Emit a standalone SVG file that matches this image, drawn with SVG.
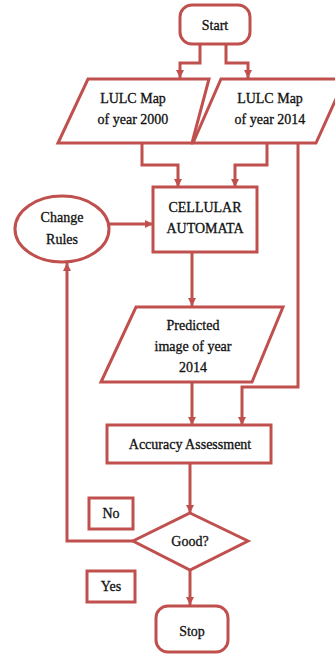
<svg xmlns="http://www.w3.org/2000/svg" width="335" height="654" viewBox="0 0 335 654">
<style>
.s{fill:#fff;stroke:#c0504d;stroke-width:3}
.c{fill:none;stroke:#c0504d;stroke-width:3}
.t{font-family:'Liberation Serif','Times New Roman','DejaVu Serif',serif;font-size:14px;fill:#111;text-anchor:middle;stroke:#111;stroke-width:0.3}
</style>
<defs>
<marker id="ah" markerUnits="userSpaceOnUse" markerWidth="10" markerHeight="10" viewBox="0 0 10 10" refX="9" refY="5" orient="auto">
<path d="M1,1 L9,5 L1,9 Z" fill="#c0504d"/>
</marker>
</defs>
<g id="connectors">
<path class="c" d="M200,44 V63 H180 V78" marker-end="url(#ah)"/>
<path class="c" d="M226,44 V63 H248 V78" marker-end="url(#ah)"/>
<path class="c" d="M142,143 V165 H178 V187" marker-end="url(#ah)"/>
<path class="c" d="M267,143 V165 H235 V187" marker-end="url(#ah)"/>
<path class="c" d="M298,143 V387 H242 V425" marker-end="url(#ah)"/>
<path class="c" d="M109,224 H153" marker-end="url(#ah)"/>
<path class="c" d="M192,252 V306" marker-end="url(#ah)"/>
<path class="c" d="M192,382 V425" marker-end="url(#ah)"/>
<path class="c" d="M190,463 V513" marker-end="url(#ah)"/>
<path class="c" d="M133,541 H67 V263" marker-end="url(#ah)"/>
<path class="c" d="M190,570 V605" marker-end="url(#ah)"/>
</g>
<g id="start">
<rect class="s" x="180" y="5" width="70" height="39" rx="12"/>
<text class="t" x="215" y="30">Start</text>
</g>
<g id="lulc2000">
<polygon class="s" points="88,79 209,79 192,143 58,143"/>
<text class="t" x="133" y="103">LULC Map</text>
<text class="t" x="133" y="124">of year 2000</text>
</g>
<g id="lulc2014">
<polygon class="s" points="221,79 345,79 316,143 193,143"/>
<text class="t" x="270" y="103">LULC Map</text>
<text class="t" x="270" y="124">of year 2014</text>
</g>
<g id="changerules">
<ellipse class="s" cx="62" cy="229" rx="47" ry="33"/>
<text class="t" x="62" y="222">Change</text>
<text class="t" x="62" y="244">Rules</text>
</g>
<g id="ca">
<rect class="s" x="153" y="187" width="104" height="65"/>
<text class="t" x="205" y="212">CELLULAR</text>
<text class="t" x="205" y="233">AUTOMATA</text>
</g>
<g id="predicted">
<polygon class="s" points="136,307 283,307 252,382 101,382"/>
<text class="t" x="193" y="330">Predicted</text>
<text class="t" x="193" y="351">image of year</text>
<text class="t" x="193" y="372">2014</text>
</g>
<g id="accuracy">
<rect class="s" x="107" y="425" width="164" height="38"/>
<text class="t" x="190" y="449">Accuracy Assessment</text>
</g>
<g id="good">
<polygon class="s" points="190,513 248,541 190,570 133,541"/>
<text class="t" x="190" y="546">Good?</text>
</g>
<g id="no">
<rect class="s" x="89" y="498" width="44" height="31"/>
<text class="t" x="111" y="518">No</text>
</g>
<g id="yes">
<rect class="s" x="87" y="571" width="48" height="31"/>
<text class="t" x="111" y="591">Yes</text>
</g>
<g id="stop">
<rect class="s" x="156" y="606" width="72" height="46" rx="12"/>
<text class="t" x="192" y="636">Stop</text>
</g>
</svg>
